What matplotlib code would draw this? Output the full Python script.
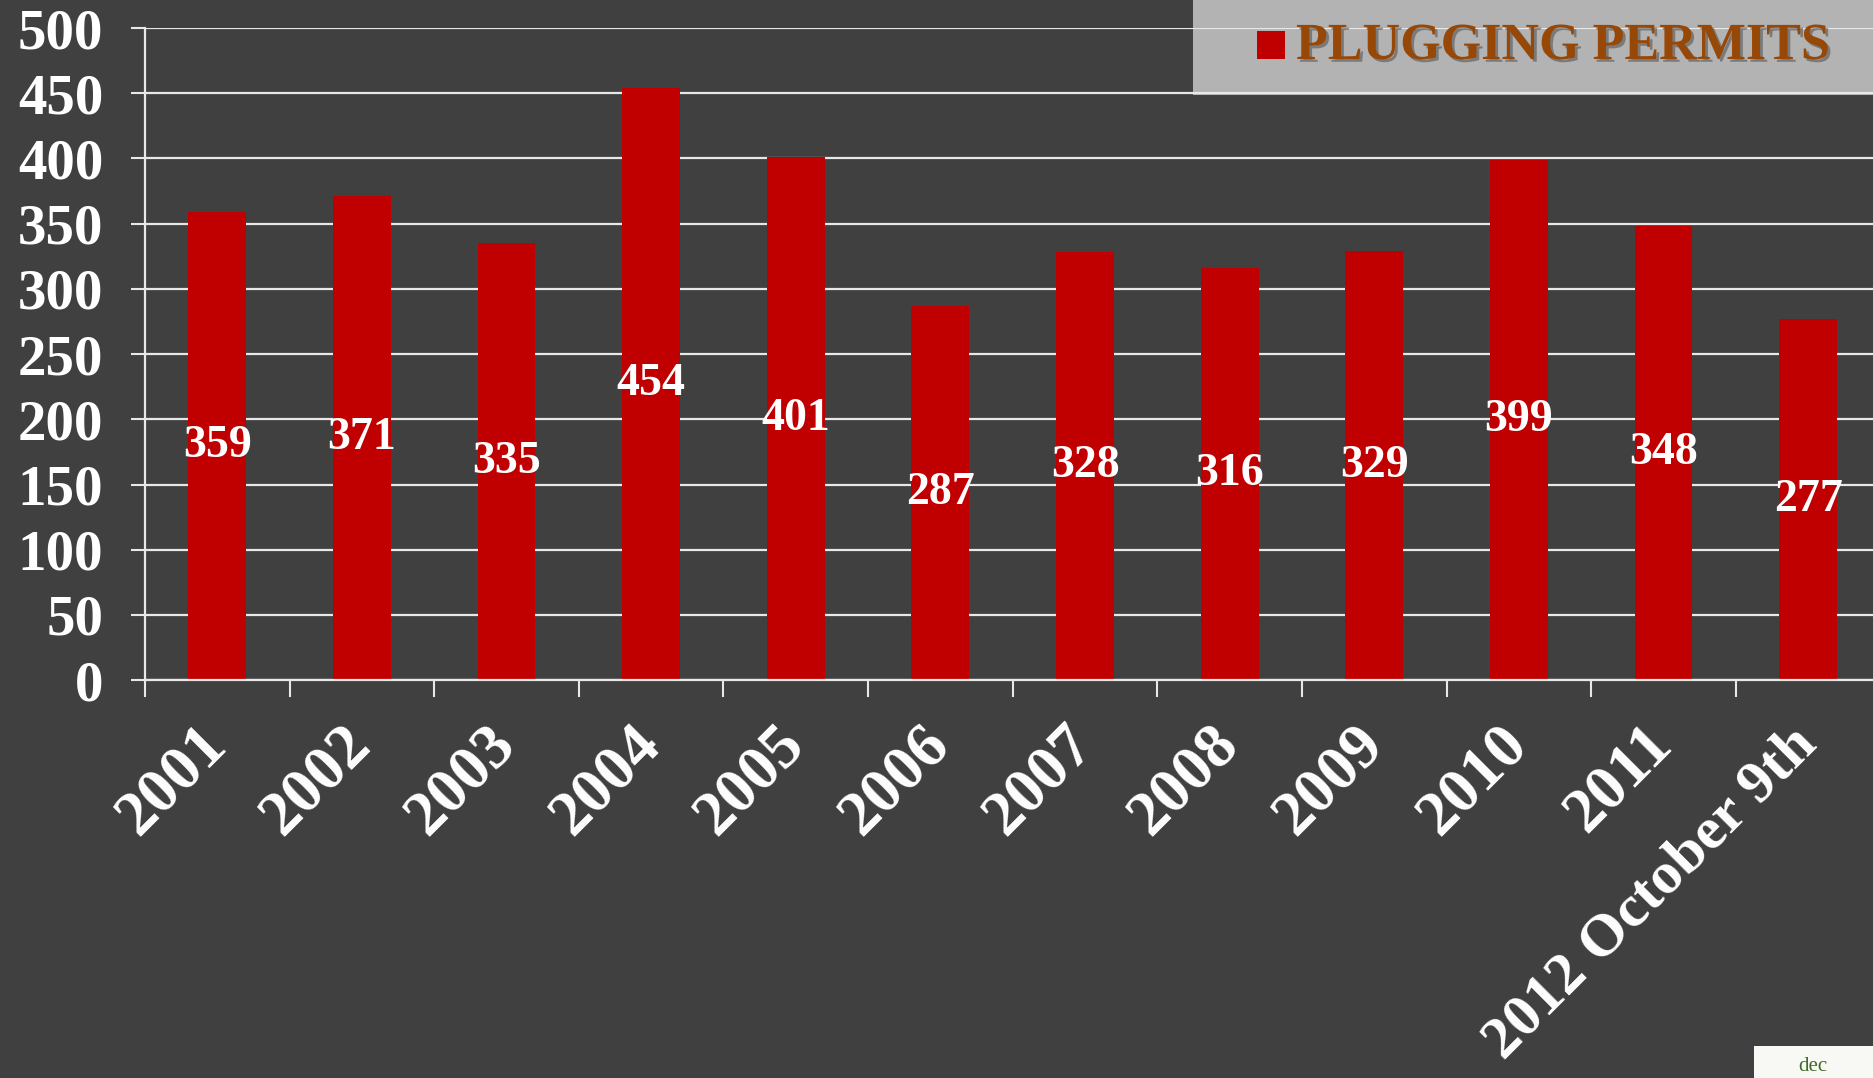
import matplotlib.pyplot as plt
import matplotlib.patheffects as pe
from matplotlib.patches import Rectangle
import numpy as np

years = ["2001", "2002", "2003", "2004", "2005", "2006", "2007", "2008",
         "2009", "2010", "2011", "2012 October 9th"]
permits = [359, 371, 335, 454, 401, 287, 328, 316, 329, 399, 348, 277]
y_ticks = [0, 50, 100, 150, 200, 250, 300, 350, 400, 450, 500]
series_name = "PLUGGING PERMITS"

BG = "#404040"
BAR = "#c00000"
GRID = "#e8e8e8"
SERIF = ["Liberation Serif", "DejaVu Serif"]

plt.rcParams["font.family"] = SERIF

fig = plt.figure(figsize=(18.73, 10.78), dpi=100, facecolor=BG)
ax = fig.add_axes([0.0774, 0.369, 0.9266, 0.605])
ax.set_facecolor("none")

x = np.arange(len(years))
ax.bar(x, permits, width=0.4, color=BAR, zorder=2)

for xi, v in zip(x, permits):
    ax.text(xi, v / 2, str(v), ha="center", va="center", color="white",
            fontsize=33, fontweight="bold", zorder=3)

ax.set_xlim(-0.5, len(years) - 0.5)
ax.set_ylim(0, 500)
ax.set_yticks(y_ticks)
ax.set_yticklabels([str(t) for t in y_ticks])
ax.grid(True, axis="y", color=GRID, linewidth=1.6, zorder=1)
ax.set_axisbelow(True)

ax.set_xticks(np.arange(len(years) + 1) - 0.5)
ax.set_xticklabels([])
ax.set_xticks(x, minor=True)
ax.set_xticklabels(years, minor=True, rotation=45, ha="right", va="center",
                   rotation_mode="anchor")
ax.tick_params(axis="x", which="major", length=12, width=1.5, color=GRID,
               direction="out")
ax.tick_params(axis="x", which="minor", length=0, pad=40, labelsize=46,
               labelcolor="white")
ax.tick_params(axis="y", length=10, width=1.5, color=GRID, direction="out",
               pad=20, labelsize=41, labelcolor="white")
for lab in ax.get_xticklabels(minor=True) + ax.get_yticklabels():
    lab.set_fontweight("bold")
# the long last label runs to the bottom edge; keep it just inside
ax.get_xticklabels(minor=True)[-1].set_fontsize(43.5)

for side in ["top", "right"]:
    ax.spines[side].set_visible(False)
for side in ["left", "bottom"]:
    ax.spines[side].set_color(GRID)
    ax.spines[side].set_linewidth(1.6)

# legend box in the top right, drawn under the gridlines
W, H = 1873, 1078
fig.patches.append(Rectangle((1193 / W, 1 - 95 / H), 680 / W, 95 / H,
                             transform=fig.transFigure, facecolor="#b3b3b3",
                             edgecolor="none", zorder=-1))
fig.patches.append(Rectangle((1257 / W, 1 - 59 / H), 28 / W, 28 / H,
                             transform=fig.transFigure, facecolor=BAR,
                             edgecolor="none", zorder=5))
fig.text(1296 / W, 1 - 46 / H, series_name, ha="left", va="center",
         fontsize=37.5, fontweight="bold", color="#974706", zorder=5,
         path_effects=[pe.withSimplePatchShadow(offset=(2, -2),
                                                shadow_rgbFace="#555555",
                                                alpha=0.6)])

# logo corner
fig.patches.append(Rectangle((1754 / W, 0), 119 / W, 32 / H,
                             transform=fig.transFigure, facecolor="#f8f8f4",
                             edgecolor="none", zorder=5))
fig.text(1813 / W, 2 / H, "dec", ha="center", va="bottom", fontsize=15,
         color="#3f6b2a", zorder=6)

fig.savefig("out.png", dpi=100, facecolor=BG)
